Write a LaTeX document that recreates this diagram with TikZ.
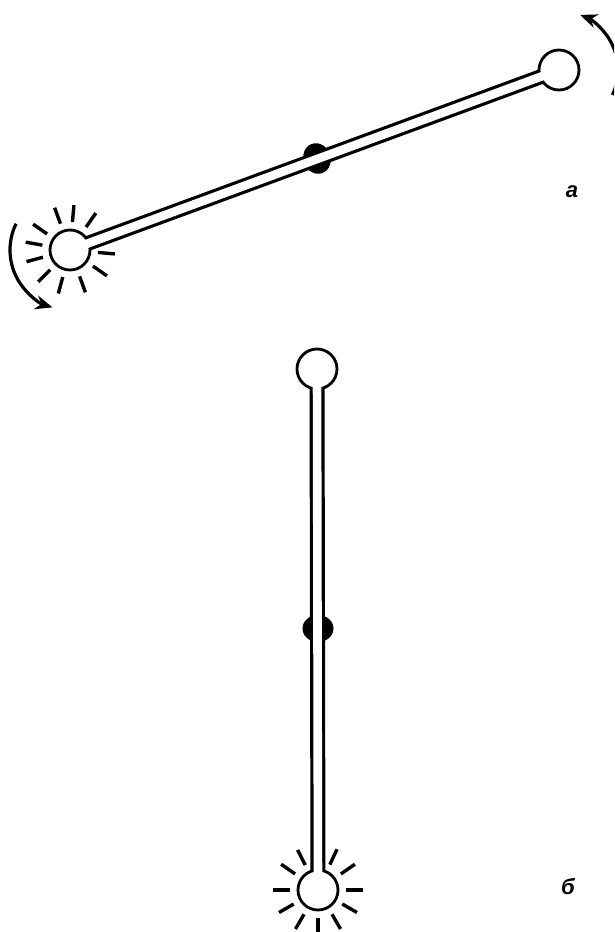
\documentclass[tikz,border=0pt]{standalone}
\usepackage{fontspec}
\newfontfamily\labfont{Liberation Sans}
\usetikzlibrary{arrows.meta,shapes.geometric,backgrounds}
\begin{document}
\begin{tikzpicture}[x=1pt,y=-1pt,
 ball/.style={circle,draw,line width=2.8pt,fill=white,minimum size=40pt,inner sep=0pt},
 pivotnode/.style={ellipse,fill=black,minimum width=27pt,minimum height=31pt,inner sep=0pt},
 rodouter/.style={line width=15pt},
 rodinner/.style={white,line width=8.6pt},
 ray/.style={line width=3.4pt},
 turn/.style={line width=3.2pt,-{Stealth[length=17pt,width=14pt]}},
 lab/.style={font=\labfont\bfseries\itshape\fontsize{22}{26}\selectfont,inner sep=0pt}]
\clip (0,0) rectangle (614,932);
\node[ball] (a1) at (70,250) {};
\node[ball] (a2) at (559,70) {};
\node[ball] (b1) at (317,369) {};
\node[ball] (b2) at (318,890) {};
\begin{scope}[on background layer]
\node[pivotnode,rotate=20.2] (pa) at (317,158.5) {};
\node[pivotnode,rotate=90] (pb) at (318,628.5) {};
\draw[rodouter] (a1.center) -- (a2.center);
\draw[rodouter] (b1.center) -- (b2.center);
\end{scope}
\draw[rodinner] (a1.center) -- (a2.center);
\draw[rodinner] (b1.center) -- (b2.center);
\foreach \t in {5,35,70,105,135,165,190,215,250,275,305}
  \draw[ray] ([shift={(\t:28)}]a1.center) -- ([shift={(\t:45)}]a1.center);
\foreach \t in {0,-35,-65,-117,-145,180,150,120,90,60,30}
  \draw[ray] ([shift={(\t:28)}]b2.center) -- ([shift={(\t:45)}]b2.center);
\draw[turn] ([shift={(206:60)}]a1.center) arc[start angle=206,end angle=107,radius=60];
\draw[turn] ([shift={(25:59)}]a2.center) arc[start angle=25,end angle=-69,radius=59];
\node[lab] (la) at (572,192) {а};
\node[lab] (lb) at (568,887) {б};
\end{tikzpicture}
\end{document}
